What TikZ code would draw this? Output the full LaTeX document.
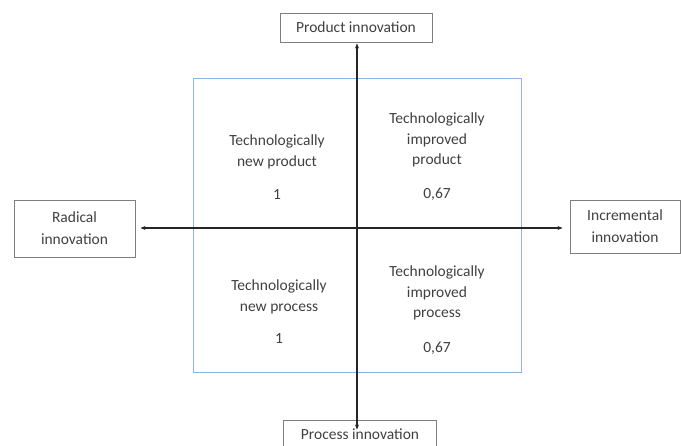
\documentclass[tikz,border=0pt]{standalone}
\usepackage{fontspec}
\setmainfont{Carlito}
\usetikzlibrary{arrows.meta,calc}
\definecolor{txt}{HTML}{404040}
\definecolor{frame}{HTML}{7F7F7F}
\definecolor{quad}{HTML}{8EB4E3}
\tikzset{
  label box/.style={draw=frame,line width=0.9pt,text=txt,align=center,
    font=\fontsize{15.5}{22}\selectfont,inner sep=0pt},
  cell text/.style={text=txt,align=center,font=\fontsize{15.5}{20.5}\selectfont,inner sep=0pt},
  axis/.style={line width=1.1pt,draw=black!85,{Stealth[length=5pt,width=4pt]}-{Stealth[length=5pt,width=4pt]}}
}
\begin{document}
\begin{tikzpicture}[x=1pt,y=-1pt]
\useasboundingbox (0,0) rectangle (681,446);
% outer frame of the four quadrants
\draw[quad,line width=1pt] (193,79) rectangle (521,373);
% axis end boxes
\node[label box,minimum width=152pt,minimum height=29pt] (prod) at (356,27.5) {Product innovation};
\node[label box,minimum width=153pt,minimum height=28pt] (proc) at (360,434) {Process innovation};
\node[label box,minimum width=121pt,minimum height=57pt] (rad) at (74.5,228.5) {Radical\\innovation};
\node[label box,minimum width=110pt,minimum height=53pt] (inc) at (625,226.5) {Incremental\\innovation};
% axes crossing at the centre
\coordinate (c) at (357,228);
\draw[axis] ([yshift=-10pt]proc.north -| c) -- ([yshift=-1pt]prod.south -| c);
\draw[axis] ([xshift=5pt]rad.east |- c) -- ([xshift=-7pt]inc.west |- c);
% quadrant contents
\node[cell text] (tl) at (277,152) {Technologically\\new product};
\node[cell text] (tlv) at (277,195) {1};
\node[cell text] (tr) at (437,140) {Technologically\\improved\\product};
\node[cell text] (trv) at (437,194) {0,67};
\node[cell text] (bl) at (279,297) {Technologically\\new process};
\node[cell text] (blv) at (279,339) {1};
\node[cell text] (br) at (437,293) {Technologically\\improved\\process};
\node[cell text] (brv) at (437,348) {0,67};
\end{tikzpicture}
\end{document}
